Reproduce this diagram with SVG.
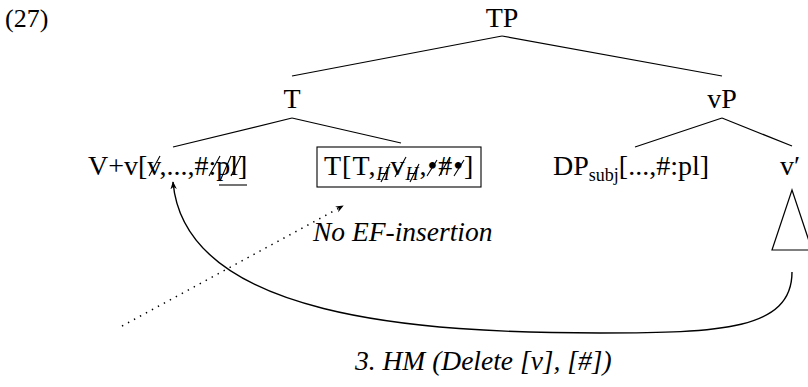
<svg xmlns="http://www.w3.org/2000/svg" width="808" height="387" viewBox="0 0 808 387">
<style>
text{font-family:"Liberation Serif","Times New Roman",serif;font-size:28px;fill:#000}
.it{font-style:italic;font-size:27.5px}
.sub{font-size:18px}
.isub{font-size:18px;font-style:italic}
.e{stroke:#000;stroke-width:1.2;fill:none}
.s{stroke:#000;stroke-width:1.1;fill:none}
</style>
<defs>
<marker id="ah" viewBox="0 0 10 10" refX="9" refY="5" markerWidth="8" markerHeight="8" orient="auto" markerUnits="userSpaceOnUse">
<path d="M0,1 L10,5 L0,9 L3,5 Z" fill="#000"/>
</marker>
</defs>
<text x="5" y="27" style="font-size:26px">(27)</text>
<g id="edges">
<line class="e" x1="502" y1="36" x2="292" y2="76"/>
<line class="e" x1="502" y1="36" x2="722" y2="76"/>
<line class="e" x1="292" y1="118" x2="173" y2="147"/>
<line class="e" x1="292" y1="118" x2="401" y2="143"/>
<line class="e" x1="722" y1="118" x2="635" y2="147"/>
<line class="e" x1="722" y1="118" x2="792" y2="146"/>
<path d="M792,272 C792,330 720,333 600,333 C420,333 185,318 173,182" stroke="#000" stroke-width="1.4" fill="none" marker-end="url(#ah)"/>
<path d="M122,326 L343,206" stroke="#000" stroke-width="1.5" stroke-dasharray="1.4 5.4" fill="none" marker-end="url(#ah)"/>
</g>
<g id="TP"><text x="502" y="27" text-anchor="middle">TP</text></g>
<g id="T"><text x="292" y="108" text-anchor="middle">T</text></g>
<g id="vP"><text x="722" y="108" text-anchor="middle">vP</text></g>
<g id="Vv">
<text x="88" y="175">V+v[v,...,#:pl]</text>
<line class="s" x1="149" y1="176" x2="160" y2="156"/>
<line class="s" x1="209" y1="176" x2="220" y2="156"/>
<line class="s" x1="220" y1="181" x2="231" y2="156"/>
<line class="s" x1="231" y1="176" x2="241" y2="156"/>
<line class="s" x1="219" y1="185" x2="247" y2="185"/>
</g>
<g id="Tbox">
<rect x="317" y="147" width="164" height="40" fill="none" stroke="#000" stroke-width="1.1"/>
<text x="324" y="175" letter-spacing="1">T[T,<tspan class="isub" dy="5">H</tspan><tspan dy="-5">v</tspan><tspan class="isub" dy="5">H</tspan><tspan dy="-5">,•#•]</tspan></text>
</g>
<g id="Tstrikes">
<line class="s" x1="381" y1="182" x2="390" y2="164"/>
<line class="s" x1="395" y1="177" x2="406" y2="157"/>
<line class="s" x1="410" y1="182" x2="419" y2="164"/>
<line class="s" x1="427" y1="176" x2="437" y2="160"/>
<line class="s" x1="439" y1="176" x2="450" y2="157"/>
<line class="s" x1="454" y1="176" x2="464" y2="160"/>
</g>
<g id="DP"><text x="553" y="175">DP<tspan class="sub" dy="6">subj</tspan><tspan dy="-6">[...,#:pl]</tspan></text></g>
<g id="vbar">
<text x="780" y="175">v′</text>
<polygon points="792,190 772,250 812,250" fill="none" stroke="#000" stroke-width="1.2"/>
</g>
<text class="it" x="313" y="241">No EF-insertion</text>
<text class="it" x="355" y="370">3. HM (Delete [v], [#])</text>
</svg>
